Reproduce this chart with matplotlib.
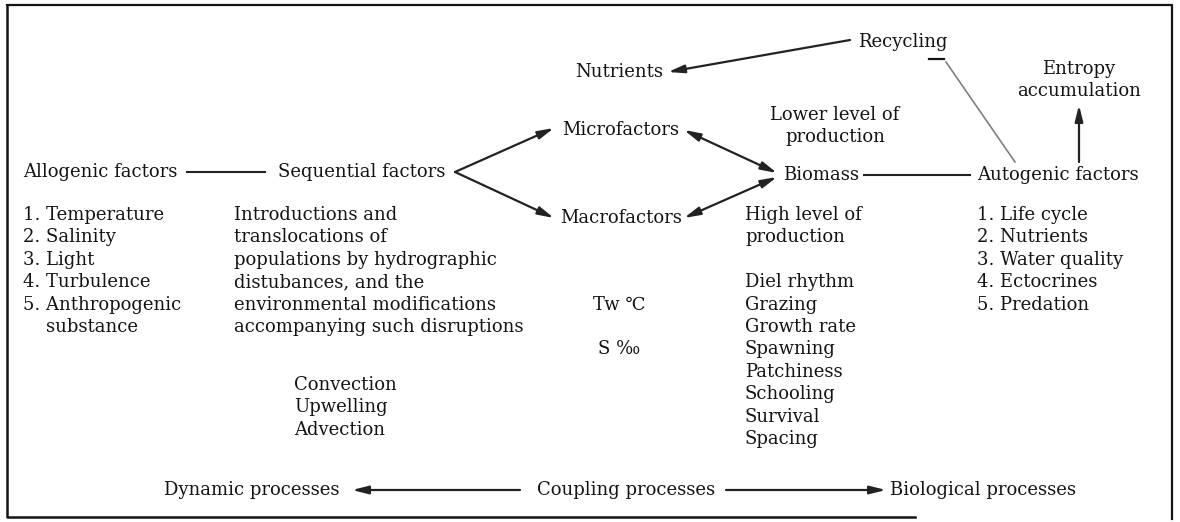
import matplotlib
matplotlib.use("Agg")
import matplotlib.pyplot as plt

# Diagram texts
allogenic = ['1. Temperature', '2. Salinity', '3. Light', '4. Turbulence',
             '5. Anthropogenic', '    substance']
sequential = ['Introductions and', 'translocations of',
              'populations by hydrographic', 'distubances, and the',
              'environmental modifications', 'accompanying such disruptions']
autogenic = ['1. Life cycle', '2. Nutrients', '3. Water quality',
             '4. Ectocrines', '5. Predation']
biomass_items = ['High level of', 'production', '', 'Diel rhythm', 'Grazing',
                 'Growth rate', 'Spawning', 'Patchiness', 'Schooling',
                 'Survival', 'Spacing']
transport = ['Convection', 'Upwelling', 'Advection']
processes = ['Dynamic processes', 'Coupling processes', 'Biological processes']

plt.rcParams['font.family'] = ['DejaVu Serif']
fs = 13
ink = '#141414'

fig = plt.figure(figsize=(11.8, 5.22), dpi=100)
ax = fig.add_axes([0, 0, 1, 1])
ax.set_xlim(0, 1180)
ax.set_ylim(522, 0)
ax.axis('off')

# frame (bottom edge fades out on the right in the scan)
ax.plot([7, 1172, 1172], [5, 5, 519], color=ink, lw=1.6)
ax.plot([7, 7, 915], [5, 517, 517], color=ink, lw=1.8)


def txt(x, y, s, ha='left', size=fs):
    ax.text(x, y, s, ha=ha, va='center', fontsize=size, color=ink)


def arrow(x0, y0, x1, y1, style='-|>', color='#222222', lw=1.6):
    ax.annotate('', xy=(x1, y1), xytext=(x0, y0),
                arrowprops=dict(arrowstyle=style + ',head_length=0.8,head_width=0.2',
                                color=color, lw=lw,
                                mutation_scale=12, shrinkA=0, shrinkB=0))


# column lists
top = 215
line_h = 22.4
for i, s in enumerate(allogenic):
    txt(23, top + i * line_h, s)
for i, s in enumerate(sequential):
    txt(234, top + i * line_h, s)
for i, s in enumerate(autogenic):
    txt(977, top + i * line_h, s)
for i, s in enumerate(biomass_items):
    txt(745, top + i * line_h, s)
for i, s in enumerate(transport):
    txt(294, 385 + i * line_h, s)

# main nodes
txt(23, 172, 'Allogenic factors')
txt(278, 172, 'Sequential factors')
txt(562, 130, 'Microfactors')
txt(560, 218, 'Macrofactors')
txt(783, 175, 'Biomass')
txt(977, 175, 'Autogenic factors')
txt(575, 72, 'Nutrients')
txt(858, 42, 'Recycling')
txt(1079, 69, 'Entropy', ha='center')
txt(1079, 91, 'accumulation', ha='center')
txt(835, 115, 'Lower level of', ha='center')
txt(835, 137, 'production', ha='center')
txt(593, top + 4 * line_h, 'Tw ℃')
txt(598, top + 6 * line_h, 'S ‰')
for x, s in zip([164, 537, 890], processes):
    txt(x, 490, s)

# connectors
ax.plot([187, 265], [172, 172], color='#222222', lw=1.5)
ax.plot([864, 970], [175, 175], color='#222222', lw=1.5)
arrow(455, 172, 554, 128)
arrow(455, 172, 554, 218)
arrow(684, 130, 777, 173, style='<|-|>')
arrow(684, 218, 777, 177, style='<|-|>')
arrow(850, 40, 668, 72)
arrow(1079, 162, 1079, 105)
ax.plot([1015, 946], [162, 62], color='#808080', lw=1.2)
ax.plot([929, 944], [59, 59], color=ink, lw=1.6)
arrow(520, 490, 352, 490)
arrow(726, 490, 886, 490)

plt.savefig('out.png', dpi=100)
